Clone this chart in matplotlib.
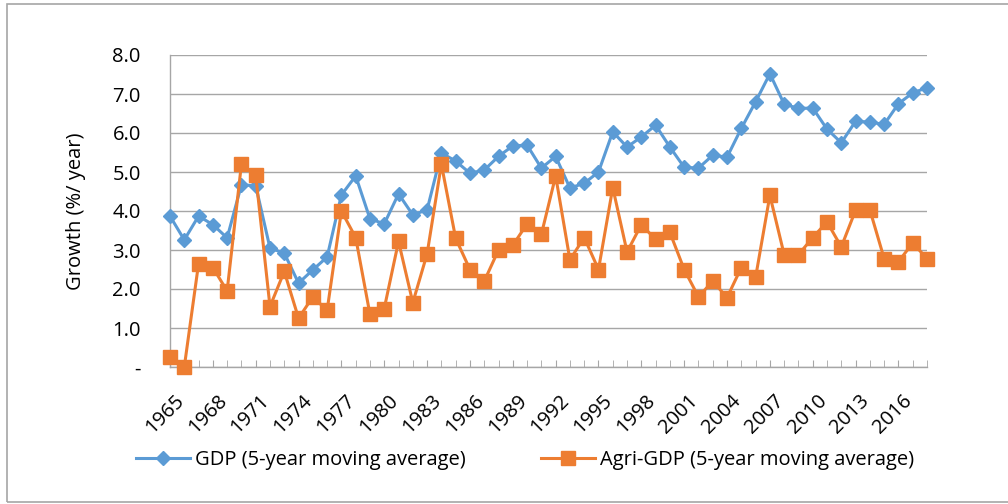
#!/usr/bin/env python3
"""
GDP vs Agri-GDP growth, 5-year moving averages, 1965-2018.
Produces: out.png
"""

import matplotlib.pyplot as plt
import matplotlib.patches as mpatches
import matplotlib.transforms as mtransforms
import numpy as np

plt.rcParams['font.family'] = ['Open Sans', 'DejaVu Sans']

# Data
years = list(range(1965, 2019))
gdp = [3.87, 3.26, 3.87, 3.65, 3.31, 4.67, 4.65, 3.05, 2.92, 2.15,
       2.49, 2.82, 4.41, 4.90, 3.80, 3.67, 4.44, 3.90, 4.03, 5.49,
       5.28, 4.97, 5.05, 5.40, 5.67, 5.69, 5.10, 5.40, 4.59, 4.71,
       5.00, 6.03, 5.64, 5.90, 6.20, 5.64, 5.12, 5.10, 5.43, 5.38,
       6.12, 6.80, 7.52, 6.74, 6.63, 6.64, 6.10, 5.75, 6.30, 6.28,
       6.22, 6.75, 7.03, 7.16]
agri = [0.25, 0.00, 2.65, 2.55, 1.95, 5.20, 4.92, 1.55, 2.45, 1.25,
        1.80, 1.45, 4.00, 3.32, 1.35, 1.50, 3.22, 1.65, 2.90, 5.20,
        3.30, 2.50, 2.20, 3.00, 3.12, 3.67, 3.40, 4.90, 2.75, 3.32,
        2.50, 4.60, 2.95, 3.65, 3.27, 3.45, 2.50, 1.80, 2.20, 1.78,
        2.55, 2.30, 4.40, 2.88, 2.88, 3.32, 3.72, 3.08, 4.02, 4.03,
        2.78, 2.70, 3.18, 2.78]
label_years = list(range(1965, 2017, 3))
y_ticks = [0, 1, 2, 3, 4, 5, 6, 7, 8]

BLUE = '#5B9BD5'
ORANGE = '#ED7D31'
GRID = '#A6A6A6'
FS = 14.5

fig = plt.figure(figsize=(10.08, 5.04), dpi=100)
ax = fig.add_axes([170 / 1008, 1 - 367 / 504, 757 / 1008, 312 / 504])

ax.plot(years, gdp, color=BLUE, lw=2.2, marker='D', ms=7.5,
        label='GDP (5-year moving average)', zorder=3, clip_on=False)
ax.plot(years, agri, color=ORANGE, lw=2.2, marker='s', ms=10,
        label='Agri-GDP (5-year moving average)', zorder=4, clip_on=False)

ax.set_xlim(1965, 2018)
ax.set_ylim(0, 8)
ax.set_yticks(y_ticks)
ax.set_yticklabels(['-' if v == 0 else f'{v:.1f}' for v in y_ticks], fontsize=FS)
ax.tick_params(axis='y', length=0, pad=21)

ax.set_xticks(years, minor=True)
ax.set_xticks(label_years)
ax.set_xticklabels([str(y) for y in label_years], rotation=45, ha='right',
                   rotation_mode='anchor', fontsize=FS)
ax.tick_params(axis='x', which='both', direction='in', length=5,
               color=GRID, pad=17)
# nudge rotated year labels a little to the right, like the original
shift = mtransforms.ScaledTranslation(4 / 100, 0, fig.dpi_scale_trans)
for lbl in ax.get_xticklabels():
    lbl.set_transform(lbl.get_transform() + shift)

ax.grid(axis='y', color=GRID, lw=1)
ax.set_axisbelow(True)
for side in ['top', 'right']:
    ax.spines[side].set_visible(False)
for side in ['left', 'bottom']:
    ax.spines[side].set_color(GRID)
    ax.spines[side].set_linewidth(1)

ax.set_ylabel('Growth (%/ year)', fontsize=FS, labelpad=19)

fig.legend(loc='center', bbox_to_anchor=(0.521, 1 - 460 / 504), ncol=2,
           frameon=False, fontsize=FS, handlelength=2.7, columnspacing=3.7,
           handletextpad=0.25)

# chart area border
fig.patches.append(mpatches.Rectangle((7 / 1008, 2 / 504), 1.2, 498 / 504,
                                      transform=fig.transFigure, fill=False,
                                      edgecolor='#A6A6A6', lw=1.2))

plt.savefig('out.png', dpi=100, facecolor='white')
plt.close()
